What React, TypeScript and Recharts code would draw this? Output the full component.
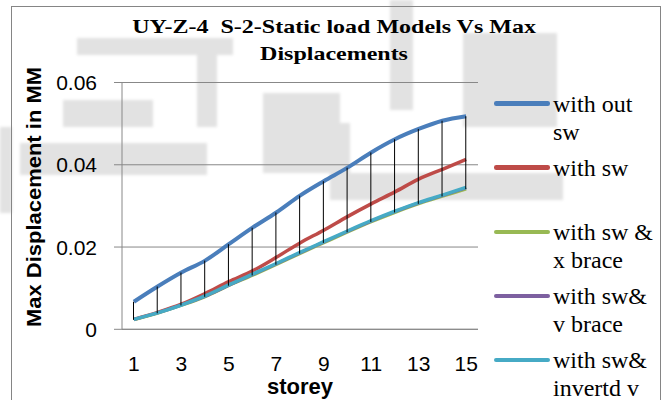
import React from 'react';
import { ComposedChart, Line, Bar, XAxis, YAxis, CartesianGrid, Legend } from 'recharts';

const storeys = [1, 2, 3, 4, 5, 6, 7, 8, 9, 10, 11, 12, 13, 14, 15];
const withOutSw = [0.0067, 0.0104, 0.0138, 0.0167, 0.0207, 0.0247, 0.0284, 0.0325, 0.036, 0.0393, 0.043, 0.0462, 0.0487, 0.0507, 0.0518];
const withSw = [0.0024, 0.0041, 0.0061, 0.0087, 0.0116, 0.0142, 0.0175, 0.021, 0.0241, 0.0274, 0.0305, 0.0334, 0.0365, 0.0389, 0.0413];
const withSwXBrace = [0.0023, 0.0039, 0.0058, 0.0079, 0.0106, 0.0131, 0.0157, 0.0184, 0.021, 0.0236, 0.0261, 0.0284, 0.0305, 0.0323, 0.0341];
const withSwVBrace = [0.0024, 0.004, 0.0059, 0.008, 0.0107, 0.0133, 0.0159, 0.0186, 0.0212, 0.0238, 0.0263, 0.0286, 0.0307, 0.0325, 0.0344];
const withSwInvertedV = [0.0024, 0.004, 0.0059, 0.0081, 0.0108, 0.0134, 0.016, 0.0187, 0.0213, 0.0239, 0.0264, 0.0287, 0.0308, 0.0326, 0.0345];
const yTicks = [0, 0.02, 0.04, 0.06];

const seriesNames = ['with out sw', 'with sw', 'with sw & x brace', 'with sw& v brace', 'with sw& invertd v'];
const seriesKeys = ['a', 'b', 'c', 'd', 'e'];
const seriesColors = ['#4A7EBB', '#BE4B48', '#98B954', '#7D60A0', '#46AAC5'];
const seriesWidths = [4, 3.5, 3, 3, 3.5];

const titleLines = ['UY-Z-4\u00a0 S-2-Static load Models Vs Max', 'Displacements'];
const yLabel = 'Max Displacement in MM';
const xLabel = 'storey';

// faint background watermark blocks of the source page (decorative)
const watermark = [
  [77, 38, 156, 17],
  [197, 55, 20, 72],
  [63, 100, 90, 27],
  [20, 143, 187, 32],
  [0, 127, 12, 86],
  [263, 93, 77, 80],
  [330, 123, 20, 50],
  [330, 173, 233, 27],
  [463, 33, 94, 94],
  [390, 0, 23, 110],
];

const seriesValues = [withOutSw, withSw, withSwXBrace, withSwVBrace, withSwInvertedV];
const data = storeys.map((s, i) => {
  const row: any = { storey: s };
  seriesKeys.forEach((k, j) => (row[k] = seriesValues[j][i]));
  const vals = seriesValues.map((v) => v[i]);
  row.range = [Math.min(...vals), Math.max(...vals)];
  return row;
});

const GRID = '#888888';

const YTick = (props: any) => {
  const { x, y, payload } = props;
  const v = payload.value;
  return (
    <text x={x} y={y} dy={7.5} textAnchor="end" fontFamily="Liberation Sans" fontSize={21} fill="#000">
      {v === 0 ? '0' : v.toFixed(2)}
    </text>
  );
};

const XTick = (props: any) => {
  const { x, y, payload } = props;
  return (
    <text x={x} y={y} dy={15} textAnchor="middle" fontFamily="Liberation Sans" fontSize={21} fill="#000">
      {payload.value}
    </text>
  );
};

const HiLow = (props: any) => {
  const { x, y, width, height } = props;
  if (x == null || y == null) return null;
  const cx = x + width / 2;
  return <line x1={cx} x2={cx} y1={y} y2={y + height} stroke="#000" strokeWidth={1} />;
};

const renderLegend = (props: any) => {
  const payload = (props.payload || [])
    .filter((p: any) => p.type !== 'none' && seriesNames.indexOf(p.value) >= 0)
    .slice()
    .sort((a: any, b: any) => seriesNames.indexOf(a.value) - seriesNames.indexOf(b.value));
  return (
    <div style={{ position: 'absolute', left: 494, top: 0, width: 170, height: 400 }}>
      {payload.map((p: any, i: number) => (
        <div
          key={i}
          style={{ position: 'absolute', left: 0, top: 89.6 + i * 64.2, display: 'flex', alignItems: 'flex-start' }}
        >
          <div style={{ width: 56, height: 4.5, background: p.color, marginTop: 11.5, borderRadius: 2.25 }} />
          <div
            style={{
              width: 106,
              marginLeft: 3,
              fontFamily: '"Liberation Serif", serif',
              fontSize: 24,
              lineHeight: '28px',
              color: '#000',
              textAlign: 'left',
            }}
          >
            {p.value}
          </div>
        </div>
      ))}
    </div>
  );
};

export default function App() {
  return (
    <div style={{ position: 'absolute', left: 0, top: 0, width: 668, height: 400, overflow: 'hidden', background: '#fff' }}>
      <svg width={668} height={400} style={{ position: 'absolute', left: 0, top: 0 }}>
        <defs>
          <filter id="wmblur" x="-10%" y="-10%" width="120%" height="120%">
            <feGaussianBlur stdDeviation="1.5" />
          </filter>
        </defs>
        <g filter="url(#wmblur)" fill="#e2e2e2">
          {watermark.map((r, i) => (
            <rect key={i} x={r[0]} y={r[1]} width={r[2]} height={r[3]} />
          ))}
        </g>
      </svg>
      <div
        style={{
          position: 'absolute',
          left: 11,
          top: 6,
          width: 648,
          height: 500,
          border: '1.5px solid #858585',
        }}
      />
      <ComposedChart
        width={668}
        height={400}
        data={data}
        margin={{ top: 82.5, right: 190, bottom: 40.7, left: 0 }}
      >
        <CartesianGrid vertical={false} stroke={GRID} strokeWidth={1} />
        <XAxis
          dataKey="storey"
          interval={1}
          tickLine={false}
          tickSize={0}
          tickMargin={27}
          height={30}
          axisLine={{ stroke: GRID }}
          tick={<XTick />}
        />
        <YAxis
          domain={[0, 0.06]}
          ticks={yTicks}
          width={122}
          tickSize={8}
          tickMargin={17}
          axisLine={{ stroke: GRID }}
          tickLine={{ stroke: GRID }}
          tick={<YTick />}
        />
        {seriesKeys.map((k, i) => (
          <Line
            key={k}
            type="monotone"
            dataKey={k}
            name={seriesNames[i]}
            stroke={seriesColors[i]}
            strokeWidth={seriesWidths[i]}
            dot={false}
            activeDot={false}
            isAnimationActive={false}
          />
        ))}
        <Bar dataKey="range" barSize={1} shape={<HiLow />} legendType="none" isAnimationActive={false} zIndex={500} />
        <Legend
          content={renderLegend}
          wrapperStyle={{ left: 0, top: 0, width: 0, height: 0 }}
        />
      </ComposedChart>
      <svg
        width={668}
        height={400}
        style={{ position: 'absolute', left: 0, top: 0, pointerEvents: 'none' }}
      >
        <text
          transform="translate(334,33.3) scale(1,0.8)"
          textAnchor="middle"
          fontFamily="Liberation Serif"
          fontWeight="bold"
          fontSize={24}
          fill="#000"
        >
          {titleLines[0]}
        </text>
        <text
          transform="translate(334,60) scale(1,0.8)"
          textAnchor="middle"
          fontFamily="Liberation Serif"
          fontWeight="bold"
          fontSize={24}
          fill="#000"
        >
          {titleLines[1]}
        </text>
        <text
          transform="translate(40.7,197) rotate(-90)"
          textAnchor="middle"
          fontFamily="Liberation Sans"
          fontWeight="bold"
          fontSize={20}
          textLength={260}
          lengthAdjust="spacingAndGlyphs"
          fill="#000"
        >
          {yLabel}
        </text>
        <text
          x={300}
          y={393.5}
          textAnchor="middle"
          fontFamily="Liberation Sans"
          fontWeight="bold"
          fontSize={22}
          fill="#000"
        >
          {xLabel}
        </text>
      </svg>
    </div>
  );
}
